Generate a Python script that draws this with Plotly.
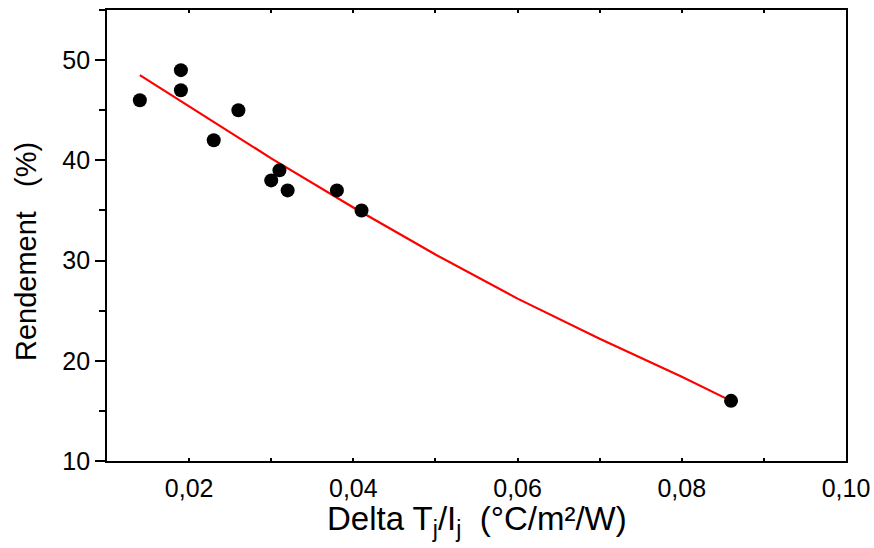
import plotly.graph_objects as go

# measured points
delta_t = [0.014, 0.019, 0.019, 0.023, 0.026, 0.030, 0.031, 0.032, 0.038, 0.041, 0.086]
rendement = [46, 49, 47, 42, 45, 38, 39, 37, 37, 35, 16]

# fitted curve
fit_x = [0.014, 0.020, 0.030, 0.040, 0.050, 0.060, 0.070, 0.080, 0.086]
fit_y = [48.5, 45.4, 40.2, 35.3, 30.6, 26.2, 22.2, 18.4, 16.0]

x_range = [0.01, 0.10]
y_range = [10, 55]

x_title = "Delta T<sub>j</sub>/I<sub>j</sub>  (°C/m²/W)"
y_title = "Rendement   (%)"

font = "Liberation Sans, Arial, sans-serif"

fig = go.Figure()
fig.add_trace(go.Scatter(x=fit_x, y=fit_y, mode="lines",
                         line=dict(color="#ff0000", width=2.2), showlegend=False))
fig.add_trace(go.Scatter(x=delta_t, y=rendement, mode="markers",
                         marker=dict(color="black", size=14), showlegend=False))

axis_common = dict(showgrid=False, zeroline=False, linecolor="black", linewidth=1.8,
                   tickcolor="black", tickwidth=1.5, automargin=False)

fig.update_layout(
    width=874, height=548,
    margin=dict(l=107, r=28, t=10, b=87),
    paper_bgcolor="white", plot_bgcolor="white",
    separators=", ",
    font=dict(family=font, size=25, color="black"),
    # x labels hang off the short inner ticks so they sit close to the axis
    xaxis=dict(range=x_range, tick0=0, dtick=0.02, tickformat=".2f",
               ticks="inside", ticklen=3, mirror="ticks", tickfont=dict(size=25),
               ticklabelstandoff=4,
               minor=dict(ticks="inside", ticklen=3, dtick=0.01, tickcolor="black", tickwidth=1.5),
               **axis_common),
    yaxis=dict(range=y_range, tick0=0, dtick=10,
               ticks="outside", ticklen=10, mirror=True, tickfont=dict(size=25),
               minor=dict(ticks="outside", ticklen=6, dtick=5, tickcolor="black", tickwidth=1.5),
               **axis_common),
    # second set of axes gives the other half of the crossing ticks
    xaxis2=dict(overlaying="x", anchor="y2", side="bottom", range=x_range, tick0=0, dtick=0.02,
                ticks="outside", ticklen=9, mirror=True, showticklabels=False,
                minor=dict(ticks="outside", ticklen=5, dtick=0.01, tickcolor="black", tickwidth=1.5),
                **axis_common),
    yaxis2=dict(overlaying="y", anchor="x2", side="left", range=y_range, tick0=0, dtick=10,
                ticks="inside", ticklen=3, mirror="ticks", showticklabels=False,
                minor=dict(ticks="inside", ticklen=3, dtick=5, tickcolor="black", tickwidth=1.5),
                **axis_common),
)

# axis titles as annotations so they sit where the original has them
fig.add_annotation(text=x_title, xref="paper", yref="paper", x=0.5, y=0,
                   xanchor="center", yanchor="top", yshift=-37,
                   showarrow=False, font=dict(size=33))
fig.add_annotation(text=y_title, xref="paper", yref="paper", x=0, y=0.4634,
                   xanchor="center", yanchor="middle", xshift=-81, textangle=-90,
                   showarrow=False, font=dict(size=29))

fig.write_html("out.html", config={"displayModeBar": False},
               post_script="document.body.style.margin='0';")
